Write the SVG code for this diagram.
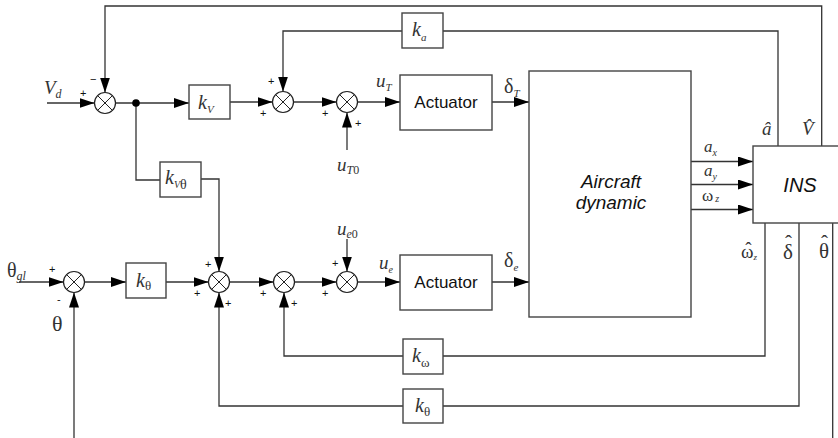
<svg xmlns="http://www.w3.org/2000/svg" width="838" height="438" viewBox="0 0 838 438">
<style>
.ln{fill:none;stroke:#333;stroke-width:1.3}
.bx{fill:#fff;stroke:#444;stroke-width:1.4}
.sj{fill:#fff;stroke:#222;stroke-width:1.2}
.ar{marker-end:url(#ah)}
.m{font-family:"Liberation Serif",serif;font-style:italic;fill:#333}
.g{font-family:"Liberation Serif",serif;fill:#333}
.s{font-family:"Liberation Sans",Arial,sans-serif;fill:#111}
.pm{font-family:"Liberation Sans",Arial,sans-serif;font-size:11px;fill:#111}
</style>
<defs>
<marker id="ah" markerUnits="userSpaceOnUse" markerWidth="16" markerHeight="11" refX="15" refY="5" orient="auto">
<path d="M0,0 L15,5 L0,10 z" fill="#000"/>
</marker>
<g id="x"><circle r="10.5" class="sj"/><path d="M-7.4,-7.4 L7.4,7.4 M-7.4,7.4 L7.4,-7.4" stroke="#222" stroke-width="1"/></g>
</defs>

<g id="connectors">
<path class="ln ar" d="M821.7,146 V6 H105 V92.5"/>
<path class="ln" d="M778,146 V31 H443"/>
<path class="ln ar" d="M402,31 H283 V91.5"/>
<path class="ln ar" d="M47,103 H94.5"/>
<path class="ln ar" d="M115.5,103 H189"/>
<path class="ln ar" d="M230,102 H272.5"/>
<path class="ln ar" d="M293.5,102 H336.5"/>
<path class="ln ar" d="M347,150 V112.5"/>
<path class="ln ar" d="M357.5,102 H400"/>
<path class="ln ar" d="M492,102 H529"/>
<path class="ln" d="M136,103 V180 H160"/>
<path class="ln ar" d="M201,179 H219 V271.5"/>
<path class="ln ar" d="M19,282 H63.5"/>
<path class="ln ar" d="M74,438 V292.5"/>
<path class="ln ar" d="M84.5,282 H126"/>
<path class="ln ar" d="M166,282 H208.5"/>
<path class="ln ar" d="M229.5,282 H273.5"/>
<path class="ln ar" d="M294.5,282 H336.5"/>
<path class="ln ar" d="M347,239 V271.5"/>
<path class="ln ar" d="M357.5,282 H400"/>
<path class="ln ar" d="M492,282 H529"/>
<path class="ln ar" d="M691,161.5 H753"/>
<path class="ln ar" d="M691,184.5 H753"/>
<path class="ln ar" d="M691,209.5 H753"/>
<path class="ln" d="M765,223 V356 H443"/>
<path class="ln ar" d="M403,356 H284 V292.5"/>
<path class="ln" d="M799,223 V406 H443"/>
<path class="ln ar" d="M403,406 H219 V292.5"/>
<path class="ln" d="M832.7,223 V438"/>
<circle cx="136" cy="103" r="3.8" fill="#000"/>
</g>

<g id="sum1"><use href="#x" x="105" y="103"/><text class="pm" x="80" y="97">+</text><text class="pm" x="90" y="83">−</text></g>
<g id="sum2"><use href="#x" x="283" y="102"/><text class="pm" x="268" y="85">+</text><text class="pm" x="260" y="117">+</text></g>
<g id="sum3"><use href="#x" x="347" y="102"/><text class="pm" x="322" y="117">+</text><text class="pm" x="355" y="127">+</text></g>
<g id="sum4"><use href="#x" x="74" y="282"/><text class="pm" x="49" y="273">+</text><text class="pm" x="57" y="303">-</text></g>
<g id="sum5"><use href="#x" x="219" y="282"/><text class="pm" x="205" y="268">+</text><text class="pm" x="194" y="297">+</text><text class="pm" x="225" y="307">+</text></g>
<g id="sum6"><use href="#x" x="284" y="282"/><text class="pm" x="260" y="297">+</text><text class="pm" x="291" y="307">+</text></g>
<g id="sum7"><use href="#x" x="347" y="282"/><text class="pm" x="332" y="267">+</text><text class="pm" x="322" y="297">+</text></g>

<g id="kV"><rect class="bx" x="189" y="85" width="41" height="34"/><text class="m" x="198" y="109" font-size="20">k<tspan font-size="11" dy="4">V</tspan></text></g>
<g id="ka"><rect class="bx" x="402" y="13" width="41" height="35"/><text class="m" x="412" y="36" font-size="20">k<tspan font-size="11" dy="5">a</tspan></text></g>
<g id="kVtheta"><rect class="bx" x="160" y="162" width="41" height="35"/><text class="m" x="165" y="184" font-size="20">k<tspan font-size="10" dy="4">V</tspan><tspan class="g" font-style="normal" font-size="14" dy="1">θ</tspan></text></g>
<g id="ktheta1"><rect class="bx" x="126" y="263" width="40" height="35"/><text class="m" x="136" y="287" font-size="20">k<tspan font-style="normal" font-size="13" dy="3">θ</tspan></text></g>
<g id="komega"><rect class="bx" x="403" y="339" width="40" height="35"/><text class="m" x="412" y="362" font-size="20">k<tspan font-style="normal" font-size="13" dy="5">ω</tspan></text></g>
<g id="ktheta2"><rect class="bx" x="403" y="389" width="40" height="34"/><text class="m" x="415" y="412" font-size="20">k<tspan font-style="normal" font-size="13" dy="4">θ</tspan></text></g>

<g id="act1"><rect class="bx" x="400" y="75" width="92" height="55"/><text class="s" x="446" y="108" font-size="17" text-anchor="middle">Actuator</text></g>
<g id="act2"><rect class="bx" x="400" y="255" width="92" height="55"/><text class="s" x="446" y="288" font-size="17" text-anchor="middle">Actuator</text></g>
<g id="aircraft"><rect class="bx" x="529" y="71" width="162" height="246"/><text class="s" x="611" y="188" font-size="19" font-style="italic" text-anchor="middle">Aircraft</text><text class="s" x="611" y="209" font-size="19" font-style="italic" text-anchor="middle">dynamic</text></g>
<g id="ins"><rect class="bx" x="753" y="146" width="90" height="77"/><text class="s" x="800" y="192" font-size="20" font-style="italic" text-anchor="middle">INS</text></g>

<g id="labels">
<text class="m" x="44" y="94" font-size="19">V<tspan font-size="12" dy="4">d</tspan></text>
<text class="m" x="376" y="87" font-size="19">u<tspan font-size="11" dy="4">T</tspan></text>
<text class="g" x="504" y="93" font-size="20">δ<tspan class="m" font-size="11" dy="4">T</tspan></text>
<text class="m" x="337" y="171" font-size="19">u<tspan font-size="12" dy="3">T</tspan><tspan font-style="normal" font-size="12">0</tspan></text>
<text class="m" x="337" y="235" font-size="19">u<tspan font-size="12" dy="3">e</tspan><tspan font-style="normal" font-size="12">0</tspan></text>
<text class="m" x="379" y="269" font-size="19">u<tspan font-size="10" dy="4">e</tspan></text>
<text class="g" x="504" y="267" font-size="20">δ<tspan class="m" font-size="11" dy="4">e</tspan></text>
<text class="g" x="7" y="277" font-size="20">θ<tspan class="m" font-size="12" dy="3">gl</tspan></text>
<text class="g" x="52" y="331" font-size="22">θ</text>
<text class="m" x="704" y="152" font-size="17">a<tspan font-size="10" dy="4">x</tspan></text>
<text class="m" x="704" y="176" font-size="17">a<tspan font-size="10" dy="4">y</tspan></text>
<text class="g" x="702" y="201" font-size="17">ω<tspan class="m" font-size="10" dx="2" dy="1">z</tspan></text>
<text class="m" x="762" y="135" font-size="19">â</text>
<text class="m" x="802" y="135" font-size="19">V̂</text>
<text class="g" x="741" y="258" font-size="19">ω<tspan class="m" font-size="9" dy="2">z</tspan></text>
<text class="g" x="748.5" y="255" font-size="19" text-anchor="middle">ˆ</text>
<text class="g" x="783" y="259" font-size="21">δ</text>
<text class="g" x="788.5" y="250" font-size="21" text-anchor="middle">ˆ</text>
<text class="g" x="819" y="258" font-size="21">θ</text>
<text class="g" x="824.5" y="250" font-size="21" text-anchor="middle">ˆ</text>
</g>
</svg>
